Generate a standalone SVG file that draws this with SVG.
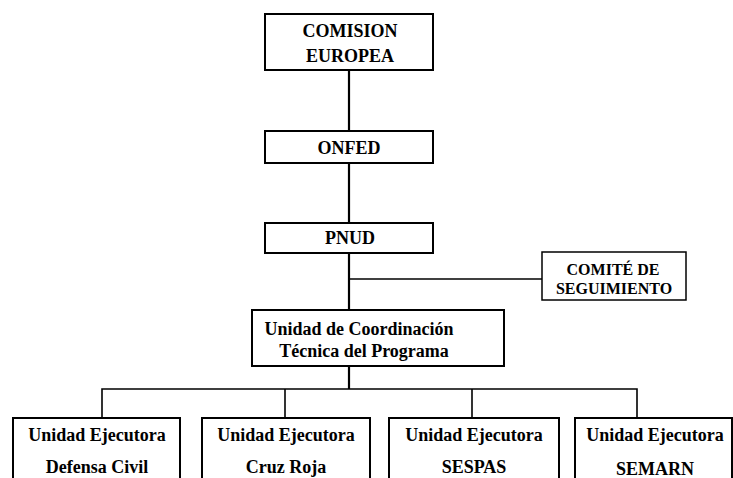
<svg xmlns="http://www.w3.org/2000/svg" width="733" height="478" viewBox="0 0 733 478">
<style>
.box{fill:#fff;stroke:#000;stroke-width:2}
.thin{stroke-width:1.5}
.t{font-family:"Liberation Serif","Times New Roman",serif;font-weight:bold;font-size:18px;fill:#000;text-anchor:middle}
.s{font-size:16px}
.c{stroke:#000;stroke-width:2.2;fill:none}
</style>
<rect width="733" height="478" fill="#fff"/>
<g id="connectors">
<line class="c" x1="349" y1="70" x2="349" y2="131"/>
<line class="c" x1="349" y1="163" x2="349" y2="223"/>
<line class="c" x1="349" y1="253" x2="349" y2="310"/>
<line class="c" x1="349" y1="279" x2="542" y2="279" style="stroke-width:1.6"/>
<line class="c" x1="349" y1="366" x2="349" y2="389"/>
<polyline class="c" points="102,418 102,389 637,389 637,418" style="stroke-width:1.6"/>
<line class="c" x1="285" y1="389" x2="285" y2="418" style="stroke-width:1.6"/>
<line class="c" x1="472" y1="389" x2="472" y2="418" style="stroke-width:1.6"/>
</g>
<g id="comision">
<rect class="box" x="265" y="14" width="168" height="56"/>
<text class="t" x="350" y="37">COMISION</text>
<text class="t" x="350" y="62">EUROPEA</text>
</g>
<g id="onfed">
<rect class="box" x="265" y="131" width="168" height="32"/>
<text class="t" x="349" y="154">ONFED</text>
</g>
<g id="pnud">
<rect class="box" x="265" y="223" width="168" height="30"/>
<text class="t" x="350" y="244">PNUD</text>
</g>
<g id="comite">
<rect class="box thin" x="542" y="252" width="144" height="48"/>
<text class="t s" x="613" y="275">COMITÉ DE</text>
<text class="t s" x="614" y="294">SEGUIMIENTO</text>
</g>
<g id="coordinacion">
<rect class="box" x="252" y="310" width="252" height="56"/>
<text class="t" x="359" y="335">Unidad de Coordinación</text>
<text class="t" x="364" y="357">Técnica del Programa</text>
</g>
<g id="defensa">
<rect class="box" x="13" y="418" width="167" height="80"/>
<text class="t" x="97" y="441">Unidad Ejecutora</text>
<text class="t" x="97" y="473">Defensa Civil</text>
</g>
<g id="cruzroja">
<rect class="box" x="202" y="418" width="168" height="80"/>
<text class="t" x="286" y="441">Unidad Ejecutora</text>
<text class="t" x="286" y="473">Cruz Roja</text>
</g>
<g id="sespas">
<rect class="box" x="389" y="418" width="170" height="80"/>
<text class="t" x="474" y="441">Unidad Ejecutora</text>
<text class="t" x="474" y="473">SESPAS</text>
</g>
<g id="semarn">
<rect class="box" x="575" y="418" width="157" height="80"/>
<text class="t" x="655" y="441">Unidad Ejecutora</text>
<text class="t" x="655" y="475">SEMARN</text>
</g>
</svg>
